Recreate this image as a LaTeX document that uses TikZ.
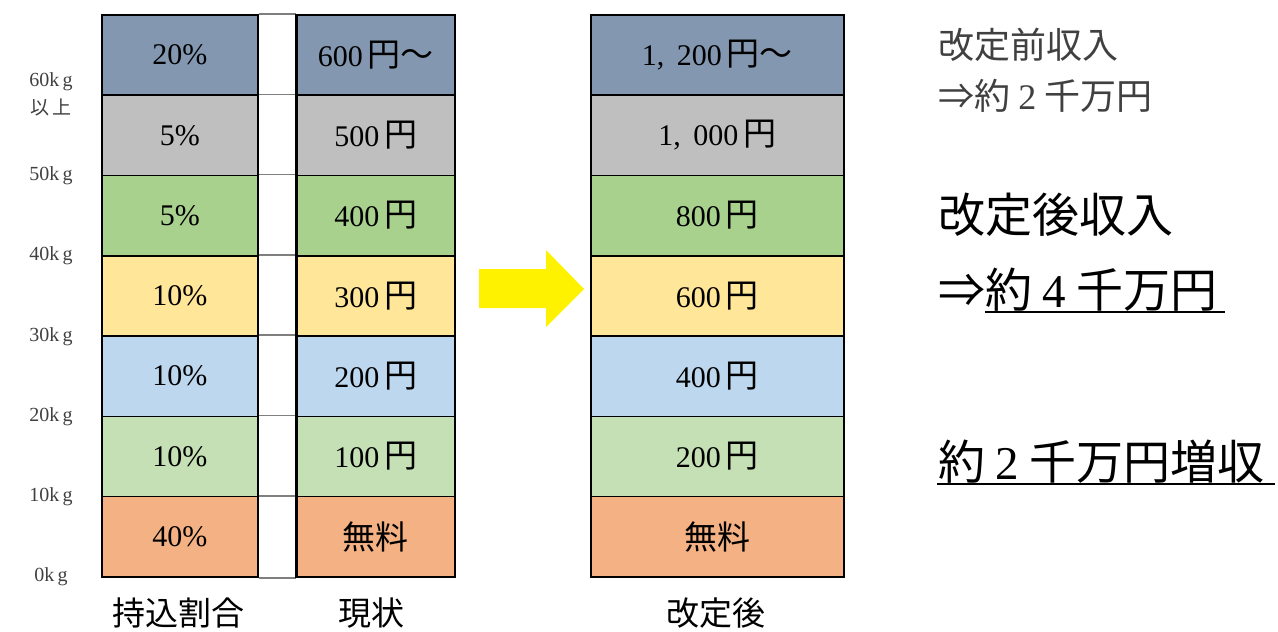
\documentclass[tikz,border=0pt]{standalone}
\usepackage{fontspec}
\setmainfont{Liberation Serif}
\newfontfamily\jp{Noto Sans CJK JP}
\newcommand{\cj}[1]{{\jp\fontsize{33}{36}\selectfont #1}}
\definecolor{r1}{HTML}{8497B0}
\definecolor{r2}{HTML}{BFBFBF}
\definecolor{r3}{HTML}{A9D18E}
\definecolor{r4}{HTML}{FFE699}
\definecolor{r5}{HTML}{BDD7EE}
\definecolor{r6}{HTML}{C5E0B4}
\definecolor{r7}{HTML}{F4B183}
\definecolor{lbl}{HTML}{404040}
\definecolor{gapline}{HTML}{7F7F7F}
\begin{document}
\begin{tikzpicture}[x=1pt,y=-1pt,
  cell/.style={draw=black, line width=1.6pt, anchor=north west, minimum height=80.3pt, inner sep=0pt, font=\fontsize{30}{32}\selectfont},
  kg/.style={text=lbl, font=\fontsize{20}{25}\selectfont, align=center},
  bottomlbl/.style={font=\jp\fontsize{33}{36}\selectfont},
  note/.style={anchor=west, inner sep=0pt}
]
\useasboundingbox (0,0) rectangle (1278,632);
% rows
\foreach \i/\col/\ta/\tb/\tc in {
  1/r1/{20\%}/{600\,\cj{円～}}/{1,\ \,200\,\cj{円～}},
  2/r2/{5\%}/{500\,\cj{円}}/{1,\ \,000\,\cj{円}},
  3/r3/{5\%}/{400\,\cj{円}}/{800\,\cj{円}},
  4/r4/{10\%}/{300\,\cj{円}}/{600\,\cj{円}},
  5/r5/{10\%}/{200\,\cj{円}}/{400\,\cj{円}},
  6/r6/{10\%}/{100\,\cj{円}}/{200\,\cj{円}},
  7/r7/{40\%}/{\cj{無料}}/{\cj{無料}}}{
  \pgfmathsetmacro{\yy}{14+80.3*(\i-1)}
  \node[cell, fill=\col, minimum width=156pt] (a\i) at (101,\yy) {\ta};
  \node[cell, fill=\col, minimum width=158pt] (b\i) at (296,\yy) {\tb};
  \node[cell, fill=\col, minimum width=253pt] (c\i) at (590,\yy) {\tc};
  \draw[gapline, line width=1.6pt] (a\i.north east) -- (b\i.north west);
}
\draw[gapline, line width=1.6pt] (a7.south east) -- (b7.south west);
\draw[black, line width=1.6pt] (a1.north east) -- (a7.south east);
\draw[black, line width=1.6pt] (b1.north west) -- (b7.south west);
% kg labels
\node[kg] (k60a) at (51,82) {60k\,g};
\node[kg, font=\jp\fontsize{19}{22}\selectfont] (k60b) at (51,107) {以\,上};
\node[kg] (k50) at (51,176) {50k\,g};
\node[kg] (k40) at (51,256) {40k\,g};
\node[kg] (k30) at (51,337) {30k\,g};
\node[kg] (k20) at (51,417) {20k\,g};
\node[kg] (k10) at (51,497) {10k\,g};
\node[kg] (k0) at (51,577) {0k\,g};
% bottom labels
\node[bottomlbl] (la) at (178,613) {持込割合};
\node[bottomlbl] (lb) at (371,613) {現状};
\node[bottomlbl] (lc) at (716,613) {改定後};
% arrow
\fill[yellow] (479,269) -- (546,269) -- (546,250) -- (584,289) -- (546,327) -- (546,308) -- (479,308) -- cycle;
% right notes
\node[note, text=lbl, font=\jp\fontsize{36}{40}\selectfont] (n1) at (938,45) {改定前収入};
\node[note, text=lbl, font=\jp\fontsize{36}{40}\selectfont] (n2) at (938,96) {⇒約\ {\rmfamily 2}\ 千万円};
\node[note, font=\jp\fontsize{47}{50}\selectfont] (n3) at (938,215) {改定後収入};
\node[note, font=\jp\fontsize{47}{50}\selectfont] (n4) at (938,290) {⇒約\ {\rmfamily 4}\ 千万円};
\draw[line width=2pt] (985,312) -- (1225,312);
\node[note, font=\jp\fontsize{47}{50}\selectfont] (n5) at (938,462) {約\ {\rmfamily 2}\ 千万円増収};
\draw[line width=2pt] (937,484) -- (1275,484);
\end{tikzpicture}
\end{document}
